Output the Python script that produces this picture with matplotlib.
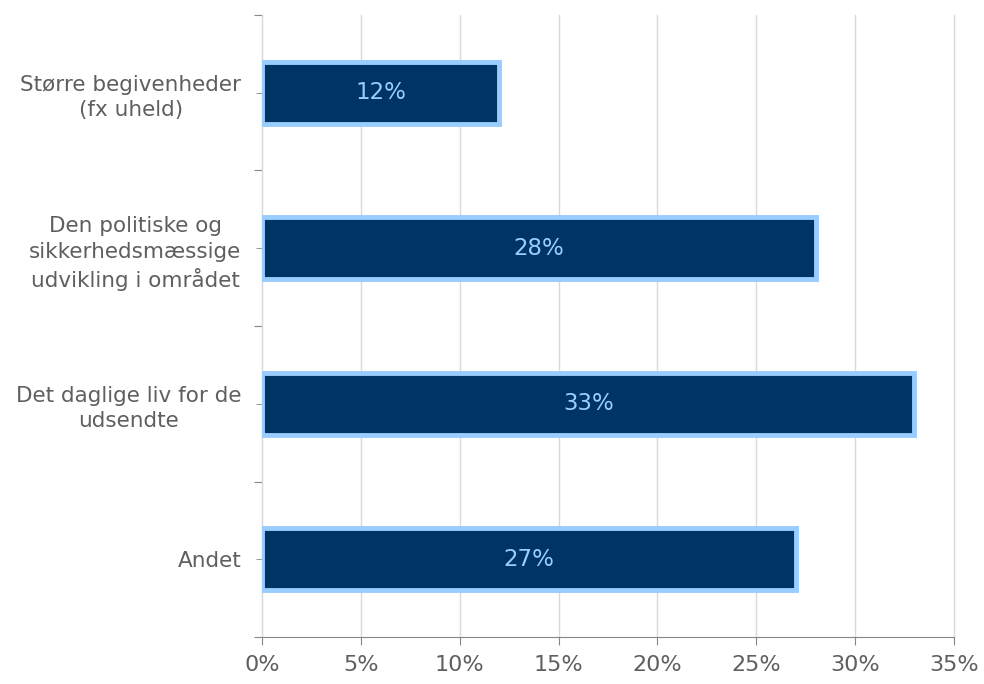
import numpy as np
import matplotlib.pyplot as plt
from matplotlib.ticker import FuncFormatter, FixedLocator

categories = ["Større begivenheder\n(fx uheld)",
              "Den politiske og\nsikkerhedsmæssige\nudvikling i området",
              "Det daglige liv for de\nudsendte",
              "Andet"]
values = [12, 28, 33, 27]
x_ticks = [0, 5, 10, 15, 20, 25, 30, 35]

bar_face = "#003366"
bar_edge = "#99CCFF"
text_grey = "#5F5F5F"
axis_grey = "#868686"
grid_grey = "#D9D9D9"

fig = plt.figure(figsize=(9.84, 6.84), dpi=100)
ax = fig.add_axes([0.2663, 0.0687, 0.7032, 0.9094])

y = np.arange(len(categories))
bars = ax.barh(y, values, height=0.4, color=bar_face, edgecolor=bar_edge,
               linewidth=3.5, zorder=3)

for b, v in zip(bars, values):
    ax.text(v / 2, b.get_y() + b.get_height() / 2, f"{v}%",
            ha="center", va="center", color=bar_edge, fontsize=16.5, zorder=4)

ax.set_xlim(0, 35)
ax.set_ylim(len(categories) - 0.5, -0.5)
ax.set_xticks(x_ticks)
ax.xaxis.set_major_formatter(FuncFormatter(lambda v, p: f"{v:.0f}%"))
ax.grid(axis="x", color=grid_grey, linewidth=1, zorder=0)
for gl in ax.get_xgridlines():
    gl.set_clip_on(False)

# category boundaries get the outward ticks, centres carry the labels
ax.yaxis.set_major_locator(FixedLocator(np.arange(-0.5, len(categories), 1)))
ax.yaxis.set_major_formatter(FuncFormatter(lambda v, p: ""))
ax.yaxis.set_minor_locator(FixedLocator(y))
ax.set_yticklabels(categories, minor=True, multialignment="center",
                   linespacing=1.35)
ax.tick_params(axis="y", which="both", length=6, color=axis_grey,
               labelsize=15.5, labelcolor=text_grey, pad=11)
ax.tick_params(axis="y", which="minor", direction="inout", length=8)
ax.tick_params(axis="x", length=6, color=axis_grey, labelsize=16,
               labelcolor=text_grey, pad=7)

for s in ["top", "right"]:
    ax.spines[s].set_visible(False)
ax.spines["left"].set_color(grid_grey)
ax.spines["bottom"].set_color(axis_grey)

fig.savefig("out.png", dpi=100)
